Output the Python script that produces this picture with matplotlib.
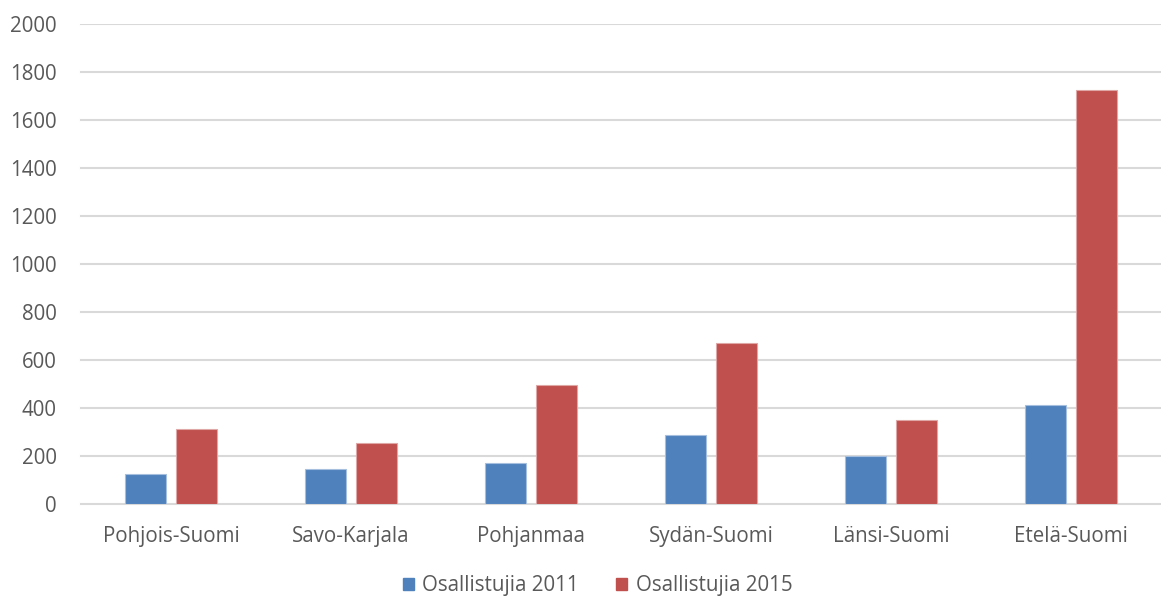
import numpy as np
import matplotlib.pyplot as plt
from matplotlib.patches import Patch

regions = ['Pohjois-Suomi', 'Savo-Karjala', 'Pohjanmaa', 'Sydän-Suomi', 'Länsi-Suomi', 'Etelä-Suomi']
osallistujia_2011 = [124, 145, 172, 287, 200, 411]
osallistujia_2015 = [311, 253, 494, 672, 349, 1724]
series_names = ['Osallistujia 2011', 'Osallistujia 2015']
yticks = np.arange(0, 2001, 200)

blue = '#4F81BD'
red = '#C0504D'
text_c = '#595959'
grid_c = '#D9D9D9'

plt.rcParams['font.family'] = ['Open Sans', 'DejaVu Sans']

fig = plt.figure(figsize=(11.61, 5.99), dpi=100)
ax = fig.add_axes([0.0, 0.1586, 1.0, 0.8014])

x = np.arange(len(regions))
w = 0.227
off = 0.144
ax.bar(x - off, osallistujia_2011, w, color=blue, edgecolor='#A7BFDE', linewidth=0.8, zorder=3)
ax.bar(x + off, osallistujia_2015, w, color=red, edgecolor='#DFA7A6', linewidth=0.8, zorder=3)

ax.set_ylim(0, 2000)
ax.set_xlim(-0.5 - 81 / 180, 5.5)
ax.set_yticks(yticks)
ax.set_xticks(x)
ax.set_xticklabels(regions)
for s in ['top', 'right', 'left']:
    ax.spines[s].set_visible(False)
ax.spines['bottom'].set_color(grid_c)
ax.spines['bottom'].set_linewidth(1.5)
ax.spines['bottom'].set_bounds(-0.5, 5.5)
ax.tick_params(axis='both', length=0, labelsize=14.8, colors=text_c)
ax.tick_params(axis='x', pad=16)
# y labels sit inside the left margin of the axes
ax.tick_params(axis='y', pad=-41)

# gridlines only over the plotting region
for yv in yticks[1:]:
    ax.plot([-0.5, 5.5], [yv, yv], color=grid_c, linewidth=1.5, zorder=0)

handles = [Patch(color=blue), Patch(color=red)]
fig.legend(handles, series_names, loc='center', bbox_to_anchor=(0.5147, 0.022),
           ncol=2, frameon=False, fontsize=14.8, labelcolor=text_c,
           handlelength=0.55, handleheight=0.55, handletextpad=0.4, columnspacing=1.8)

fig.savefig('out.png', dpi=100)
